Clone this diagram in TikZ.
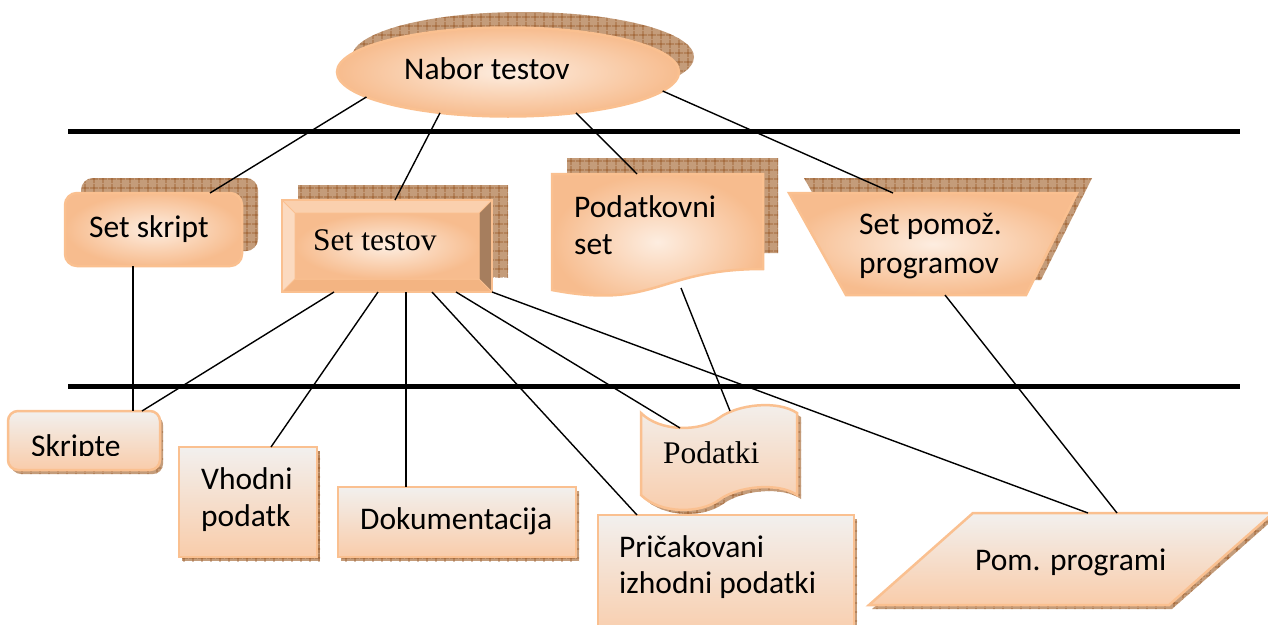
\documentclass[tikz,border=0pt]{standalone}
\usepackage{fontspec}
\setmainfont{Carlito}
\newfontfamily\timesfont{Liberation Serif}
\usetikzlibrary{shapes.geometric,patterns}

\definecolor{peachline}{RGB}{250,192,144}
\definecolor{peachdark}{RGB}{247,188,142}
\definecolor{peachlight}{RGB}{253,237,224}
\definecolor{greytop}{RGB}{242,240,238}
\definecolor{peachbottom}{RGB}{249,204,170}
\definecolor{shadowtan}{RGB}{196,156,122}
\definecolor{shadowgrid}{RGB}{150,84,34}
\definecolor{beveltop}{RGB}{250,208,174}
\definecolor{bevelleft}{RGB}{251,218,192}
\definecolor{bevelbottom}{RGB}{243,180,130}
\definecolor{bevelright}{RGB}{166,126,94}

\pgfdeclarepatternformonly{hatchgrid}{\pgfqpoint{0pt}{0pt}}{\pgfqpoint{9pt}{9pt}}{\pgfqpoint{9pt}{9pt}}{%
  \pgfsetlinewidth{0.8pt}
  \pgfpathmoveto{\pgfqpoint{0pt}{4.5pt}}\pgfpathlineto{\pgfqpoint{9pt}{4.5pt}}
  \pgfpathmoveto{\pgfqpoint{4.5pt}{0pt}}\pgfpathlineto{\pgfqpoint{4.5pt}{9pt}}
  \pgfusepath{stroke}}

% outlines of the shapes that are no node
\newcommand\podatkovnipath{(552,174) -- (763,174) -- (763,269) .. controls (657,269) and (657,310) .. (552,290) -- cycle}
\newcommand\setpomozpath{(789,193) -- (1077,193) -- (1026,295) -- (846,295) -- cycle}
\newcommand\podatkipath{(641,413) .. controls (660,432) and (700,432) .. (719,418) .. controls (738,404) and (778,400) .. (797,413) -- (797,495) .. controls (778,482) and (738,486) .. (719,500) .. controls (700,514) and (660,514) .. (641,495) -- cycle}
\newcommand\pomprogramipath{(973,513) -- (1273,513) -- (1169,605) -- (869,605) -- cycle}

\tikzset{
  topshape/.style={draw=peachline, line width=2.5pt, inner color=peachlight, outer color=peachdark},
  lowshape/.style={draw=peachline, line width=2.5pt, top color=greytop, bottom color=peachbottom},
  box/.style={inner sep=0pt, outer sep=0pt},
  hatch/.style={fill=shadowtan, postaction={pattern=hatchgrid, pattern color=shadowgrid}},
  rule/.style={line width=5pt},
  link/.style={line width=1.4pt},
  txt/.style={anchor=base west, inner sep=0pt, font=\fontsize{31.5}{38}\selectfont},
  serif/.style={font=\timesfont\fontsize{31.5}{38}\selectfont}
}

\begin{document}
\begin{tikzpicture}[x=1pt, y=-1pt]
  \path[use as bounding box, fill=white] (0,0) rectangle (1268,624);

  % shadows
  \path[hatch] (523,57) ellipse [x radius=171, y radius=45];
  \path[hatch, rounded corners=12pt] (81,178) rectangle (258,251);
  \path[hatch] (298,185) rectangle (508,277);
  \path[hatch, shift={(15,-16)}] \podatkovnipath;
  \path[hatch, shift={(15,-15)}] \setpomozpath;
  \path[hatch, rounded corners=10pt] (11,415) rectangle (163,474);
  \path[hatch] (182,451) rectangle (320,561);
  \path[hatch] (341,491) rectangle (579,561);
  \path[hatch, shift={(4,4)}] \podatkipath;
  \path[hatch] (601,519) rectangle (857,640);
  \path[hatch, shift={(3,4)}] \pomprogramipath;

  % level lines
  \draw[rule] (68,131) -- (1240,131);
  \draw[rule] (68,386) -- (1240,386);

  % upper row
  \node[box, topshape, ellipse, minimum width=342pt, minimum height=89pt] (nabor) at (508,72) {};
  \node[box, topshape, rounded corners=12pt, minimum width=177pt, minimum height=73pt] (setskript) at (153.5,229.5) {};
  \node[box, minimum width=210pt, minimum height=92pt] (settestov) at (387,246) {};
  \fill[beveltop] (282,200) -- (492,200) -- (479,213) -- (295,213) -- cycle;
  \fill[bevelright] (492,200) -- (492,292) -- (479,279) -- (479,213) -- cycle;
  \fill[bevelbottom] (282,292) -- (492,292) -- (479,279) -- (295,279) -- cycle;
  \fill[bevelleft] (282,200) -- (295,213) -- (295,279) -- (282,292) -- cycle;
  \path[inner color=peachlight, outer color=peachdark] (295,213) rectangle (479,279);
  \draw[peachline, line width=1pt] (295,213) rectangle (479,279)
    (282,200) -- (295,213) (492,200) -- (479,213) (282,292) -- (295,279) (492,292) -- (479,279);
  \draw[peachline, line width=2.5pt] (settestov.north west) rectangle (settestov.south east);
  \path[topshape] \podatkovnipath;
  \coordinate (podatkovnitop) at (637,174);
  \coordinate (podatkovnibottom) at (681,288);
  \path[topshape] \setpomozpath;
  \coordinate (setpomoztop) at (893,193);
  \coordinate (setpomozbottom) at (945,295);

  % lower row
  \node[box, lowshape, rounded corners=10pt, minimum width=152pt, minimum height=59pt] (skripte) at (84,440.5) {};
  \node[box, lowshape, minimum width=138pt, minimum height=110pt] (vhodni) at (248,502) {};
  \node[box, lowshape, minimum width=238pt, minimum height=70pt] (dokumentacija) at (457,522) {};
  \path[lowshape] \podatkipath;
  \coordinate (podatkidip) at (680,428);
  \coordinate (podatkitop) at (730,411);
  \node[box, lowshape, minimum width=256pt, minimum height=125pt] (pricakovani) at (726,577.5) {};
  \path[lowshape] \pomprogramipath;
  \coordinate (pomprogramitop) at (1088,513);
  \coordinate (pomprogramitopb) at (1117,513);

  % texts
  \node[txt] (nabortext) at (404,79) {Nabor testov};
  \node[txt] (setskripttext) at (89,237) {Set skript};
  \node[txt, serif] (settestovtext) at (313,250) {Set testov};
  \node[txt] (podatkovnitext) at (574,217) {Podatkovni};
  \node[txt] (podatkovnitextb) at (574,254) {set};
  \node[txt] (setpomoztext) at (859,234) {Set pomož.};
  \node[txt] (setpomoztextb) at (859,273) {programov};
  \begin{scope}
    \clip (8,411) rectangle (160,455);
    \node[txt] (skriptetext) at (31,456) {Skripte};
  \end{scope}
  \node[txt] (vhodnitext) at (201,489) {Vhodni};
  \node[txt] (vhodnitextb) at (201,526) {podatk};
  \node[txt] (dokumentacijatext) at (360,529) {Dokumentacija};
  \node[txt, serif] (podatkitext) at (663,463) {Podatki};
  \node[txt] (pricakovanitext) at (619,557) {Pričakovani};
  \node[txt] (pricakovanitextb) at (619,593) {izhodni podatki};
  \node[txt] (pomprogramitext) at (975,570) {Pom. programi};

  % connectors
  \draw[link] (nabor.190) -- (setskript.north -| 210,0);
  \draw[link] (nabor.211) -- (settestov.north -| 395,0);
  \draw[link] (nabor.329) -- (podatkovnitop);
  \draw[link] (nabor.353) -- (setpomoztop);
  \draw[link] (setskript.south -| 133,0) -- (skripte.north -| 133,0);
  \draw[link] (settestov.south -| 334,0) -- (skripte.north -| 142,0);
  \draw[link] (settestov.south -| 378,0) -- (vhodni.north -| 271,0);
  \draw[link] (settestov.south -| 406,0) -- (dokumentacija.north -| 406,0);
  \draw[link] (settestov.south -| 432,0) -- (pricakovani.north -| 637,0);
  \draw[link] (settestov.south -| 456,0) -- (podatkidip);
  \draw[link] (settestov.south east) -- (pomprogramitop);
  \draw[link] (podatkovnibottom) -- (podatkitop);
  \draw[link] (setpomozbottom) -- (pomprogramitopb);
\end{tikzpicture}
\end{document}
